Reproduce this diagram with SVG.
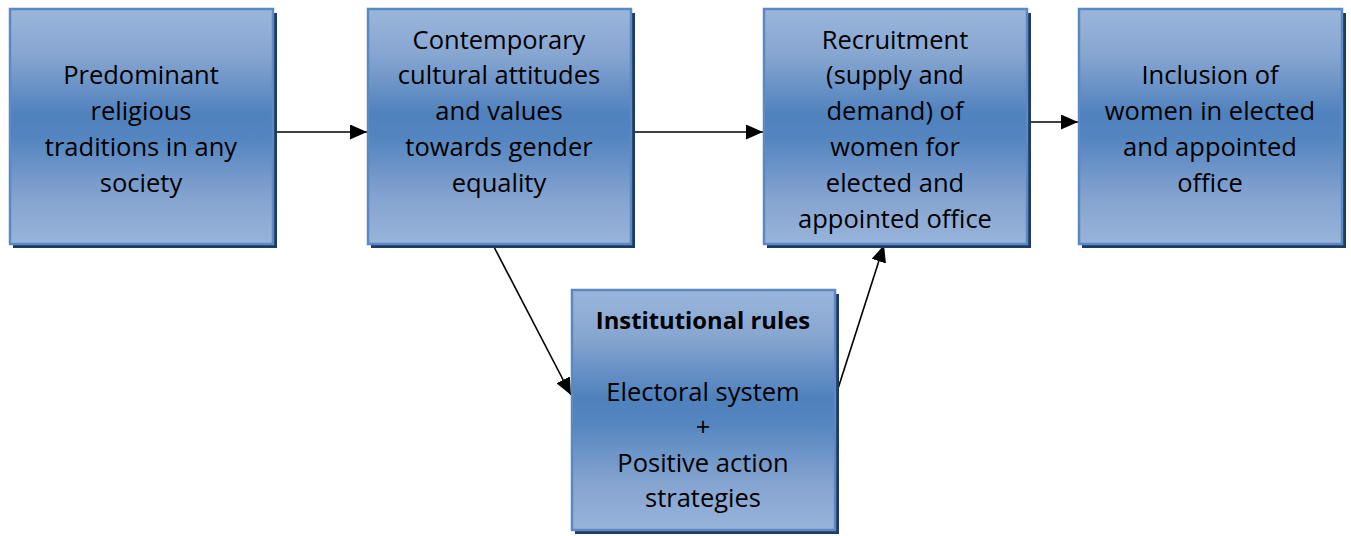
<svg xmlns="http://www.w3.org/2000/svg" width="1351" height="536" viewBox="0 0 1351 536">
<defs>
<linearGradient id="g" x1="0" y1="0" x2="0" y2="1">
<stop offset="0" stop-color="#9ab6db"/>
<stop offset="0.2" stop-color="#86a5d0"/>
<stop offset="0.45" stop-color="#4f81bd"/>
<stop offset="0.55" stop-color="#5485c0"/>
<stop offset="0.8" stop-color="#84a3cf"/>
<stop offset="1" stop-color="#97b4da"/>
</linearGradient>
<marker id="ah" viewBox="0 0 10 10" refX="10" refY="5" markerWidth="17" markerHeight="15" markerUnits="userSpaceOnUse" orient="auto" preserveAspectRatio="none">
<path d="M0,0 L10,5 L0,10 z" fill="#000"/>
</marker>
</defs>
<style>
.shadow{fill:#1f3b63}
.box{fill:url(#g);stroke:#5a89c4;stroke-width:2.5}
.t{font-family:"Open Sans",Lato,"Liberation Sans",sans-serif;font-size:25.5px;fill:#000;text-anchor:middle}
.b{font-weight:bold;font-size:23.8px}
.c{stroke:#000;stroke-width:1.6;fill:none;marker-end:url(#ah)}
</style>
<g id="connectors">
<line class="c" x1="274" y1="132" x2="367" y2="132"/>
<line class="c" x1="631" y1="132" x2="763" y2="132"/>
<line class="c" x1="1026" y1="122" x2="1078" y2="122"/>
<line class="c" x1="493" y1="245" x2="571" y2="395"/>
<line class="c" x1="835" y1="398" x2="884" y2="245"/>
</g>
<g id="n1">
<rect class="shadow" x="13" y="13" width="264" height="235"/>
<rect class="box" x="10" y="9" width="263" height="235"/>
<text class="t" x="141" y="84">Predominant</text>
<text class="t" x="141" y="120">religious</text>
<text class="t" x="141" y="156">traditions in any</text>
<text class="t" x="141" y="192">society</text>
</g>
<g id="n2">
<rect class="shadow" x="371" y="13" width="264" height="235"/>
<rect class="box" x="368" y="9" width="263" height="235"/>
<text class="t" x="499" y="49">Contemporary</text>
<text class="t" x="499" y="84">cultural attitudes</text>
<text class="t" x="499" y="120">and values</text>
<text class="t" x="499" y="156">towards gender</text>
<text class="t" x="499" y="192">equality</text>
</g>
<g id="n3">
<rect class="shadow" x="767" y="13" width="264" height="235"/>
<rect class="box" x="764" y="9" width="263" height="235"/>
<text class="t" x="895" y="49">Recruitment</text>
<text class="t" x="895" y="84">(supply and</text>
<text class="t" x="895" y="120">demand) of</text>
<text class="t" x="895" y="156">women for</text>
<text class="t" x="895" y="192">elected and</text>
<text class="t" x="895" y="228">appointed office</text>
</g>
<g id="n4">
<rect class="shadow" x="1082" y="13" width="264" height="235"/>
<rect class="box" x="1079" y="9" width="263" height="235"/>
<text class="t" x="1210" y="84">Inclusion of</text>
<text class="t" x="1210" y="120">women in elected</text>
<text class="t" x="1210" y="156">and appointed</text>
<text class="t" x="1210" y="192">office</text>
</g>
<g id="n5">
<rect class="shadow" x="575" y="294" width="264" height="240"/>
<rect class="box" x="572" y="290" width="263" height="240"/>
<text class="t b" x="703" y="329">Institutional rules</text>
<text class="t" x="703" y="401">Electoral system</text>
<text class="t" x="703" y="436">+</text>
<text class="t" x="703" y="472">Positive action</text>
<text class="t" x="703" y="507">strategies</text>
</g>
</svg>
